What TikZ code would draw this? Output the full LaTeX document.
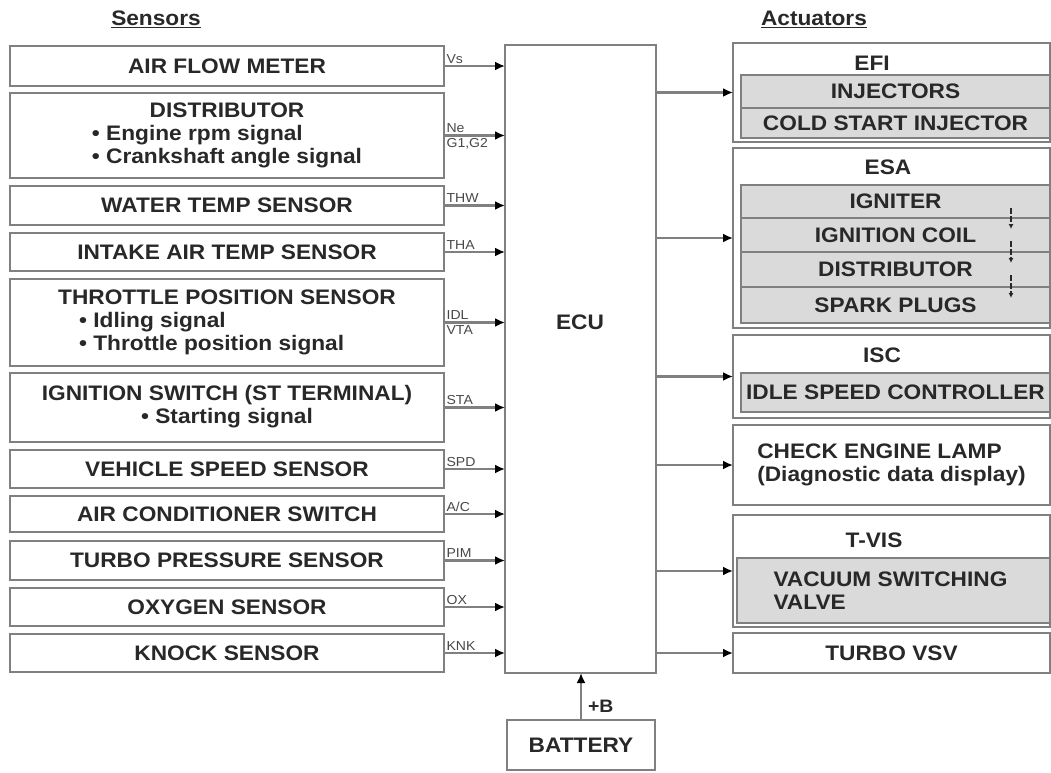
\documentclass[tikz,border=0pt]{standalone}
\usepackage{fontspec}
\setmainfont{Liberation Sans}[FakeStretch=1.08]
\usetikzlibrary{arrows.meta}
\definecolor{edge}{RGB}{128,128,128}
\definecolor{ink}{RGB}{40,40,40}
\definecolor{shade}{RGB}{218,218,218}
\newcommand\multibox[2]{\begin{tabular}{@{}l@{}}\multicolumn{1}{@{}c@{}}{#1}\\#2\end{tabular}}
\begin{document}
\begin{tikzpicture}[x=1pt,y=-1pt,
  font=\fontsize{21}{23}\selectfont\bfseries, text=ink,
  box/.style={draw=edge, line width=2.2pt, fill=white, anchor=north west, inner sep=0pt, outer sep=0pt, align=center},
  inbox/.style={box, fill=shade},
  sig/.style={draw=edge, line width=2.2pt, -{Latex[length=10pt,width=9pt,color=black,fill=black]}},
  lbl/.style={font=\fontsize{13}{14}\selectfont\mdseries, text=ink!85, inner sep=1.5pt},
  head/.style={font=\fontsize{21}{23}\selectfont\bfseries}]
\useasboundingbox (0,0) rectangle (1051,772);

% headings
\node[head] (hs) at (156,19) {\underline{Sensors}};
\node[head] (ha) at (814,19) {\underline{Actuators}};

% ECU
\node[box, minimum width=151, minimum height=628] (ecu) at (505,45) {};
\node (ecut) at (580,322) {ECU};

% sensors
\node[box, minimum width=434, minimum height=40] (afm) at (10,46) {AIR FLOW METER};
\node[box, minimum width=434, minimum height=85] (dist) at (10,93)
  {\multibox{DISTRIBUTOR}{• Engine rpm signal\\• Crankshaft angle signal}};
\node[box, minimum width=434, minimum height=39] (wts) at (10,186) {WATER TEMP SENSOR};
\node[box, minimum width=434, minimum height=38] (iats) at (10,233) {INTAKE AIR TEMP SENSOR};
\node[box, minimum width=434, minimum height=87] (tps) at (10,279)
  {\multibox{THROTTLE POSITION SENSOR}{\quad• Idling signal\\\quad• Throttle position signal}};
\node[box, minimum width=434, minimum height=69] (igs) at (10,373)
  {\begin{tabular}{@{}c@{}}IGNITION SWITCH (ST TERMINAL)\\• Starting signal\end{tabular}};
\node[box, minimum width=434, minimum height=38] (vss) at (10,450) {VEHICLE SPEED SENSOR};
\node[box, minimum width=434, minimum height=36] (acs) at (10,496) {AIR CONDITIONER SWITCH};
\node[box, minimum width=434, minimum height=39] (tbs) at (10,541) {TURBO PRESSURE SENSOR};
\node[box, minimum width=434, minimum height=38] (oxs) at (10,588) {OXYGEN SENSOR};
\node[box, minimum width=434, minimum height=38] (kns) at (10,634) {KNOCK SENSOR};

% sensor signals
\draw[sig] (afm.east) -- (afm.east -| ecu.west) node[lbl, pos=0, anchor=south west] (lvs) {Vs};
\draw[sig] (dist.east) -- (dist.east -| ecu.west) node[lbl, pos=0, anchor=south west] (lne) {Ne}
  node[lbl, pos=0, anchor=north west] (lg) {G1,G2};
\draw[sig] (wts.east) -- (wts.east -| ecu.west) node[lbl, pos=0, anchor=south west] (lthw) {THW};
\draw[sig] (iats.east) -- (iats.east -| ecu.west) node[lbl, pos=0, anchor=south west] (ltha) {THA};
\draw[sig] (tps.east) -- (tps.east -| ecu.west) node[lbl, pos=0, anchor=south west] (lidl) {IDL}
  node[lbl, pos=0, anchor=north west] (lvta) {VTA};
\draw[sig] (igs.east) -- (igs.east -| ecu.west) node[lbl, pos=0, anchor=south west] (lsta) {STA};
\draw[sig] (vss.east) -- (vss.east -| ecu.west) node[lbl, pos=0, anchor=south west] (lspd) {SPD};
\draw[sig] (acs.east) -- (acs.east -| ecu.west) node[lbl, pos=0, anchor=south west] (lac) {A/C};
\draw[sig] (tbs.east) -- (tbs.east -| ecu.west) node[lbl, pos=0, anchor=south west] (lpim) {PIM};
\draw[sig] (oxs.east) -- (oxs.east -| ecu.west) node[lbl, pos=0, anchor=south west] (lox) {OX};
\draw[sig] (kns.east) -- (kns.east -| ecu.west) node[lbl, pos=0, anchor=south west] (lknk) {KNK};

% battery
\node[box, minimum width=148, minimum height=50] (bat) at (507,720) {BATTERY};
\draw[sig] (bat.north) -- (bat.north |- ecu.south) node[pos=0.3, anchor=west, font=\fontsize{18}{20}\selectfont\bfseries, inner sep=6pt] (lb) {+B};

% actuators
\node[box, minimum width=317, minimum height=99] (efi) at (733,43) {};
\node (efil) at (872,63) {EFI};
\node[inbox, minimum width=309, minimum height=33] (inj) at (741,75) {INJECTORS};
\node[inbox, minimum width=309, minimum height=30] (csi) at (741,108) {COLD START INJECTOR};

\node[box, minimum width=317, minimum height=180] (esa) at (733,148) {};
\node (esal) at (888,167) {ESA};
\node[inbox, minimum width=309, minimum height=33] (ign) at (741,185) {IGNITER};
\node[inbox, minimum width=309, minimum height=34] (coil) at (741,218) {IGNITION COIL};
\node[inbox, minimum width=309, minimum height=35] (edis) at (741,252) {DISTRIBUTOR};
\node[inbox, minimum width=309, minimum height=36] (spk) at (741,287) {SPARK PLUGS};
\coordinate (m1a) at (1011,208); \coordinate (m1b) at (1011,229);
\coordinate (m2a) at (1011,241); \coordinate (m2b) at (1011,263);
\coordinate (m3a) at (1011,275); \coordinate (m3b) at (1011,298);
\foreach \a/\b in {m1a/m1b, m2a/m2b, m3a/m3b}
  \draw[ink, line width=1.6pt, dash pattern=on 6pt off 2pt, -{Latex[length=5pt,width=5pt]}] (\a) -- (\b);

\node[box, minimum width=317, minimum height=83] (isc) at (733,335) {};
\node (iscl) at (882,355) {ISC};
\node[inbox, minimum width=309, minimum height=39] (isc2) at (741,373) {IDLE SPEED CONTROLLER};

\node[box, minimum width=317, minimum height=80] (cel) at (733,425)
  {\begin{tabular}{@{}l@{}}CHECK ENGINE LAMP\\(Diagnostic data display)\end{tabular}};

\node[box, minimum width=317, minimum height=112] (tvis) at (733,515) {};
\node (tvisl) at (874,540) {T-VIS};
\node[inbox, minimum width=313, minimum height=65] (vsv) at (737,558) {};
\node[anchor=west, align=left] (vsvt) at (770,591) {VACUUM SWITCHING\\VALVE};

\node[box, minimum width=317, minimum height=40] (tvsv) at (733,633) {TURBO VSV};

% actuator arrows
\foreach \n in {efi, esa, isc, cel, tvis, tvsv}
  \draw[sig] (\n.west -| ecu.east) -- (\n.west);
\end{tikzpicture}
\end{document}
